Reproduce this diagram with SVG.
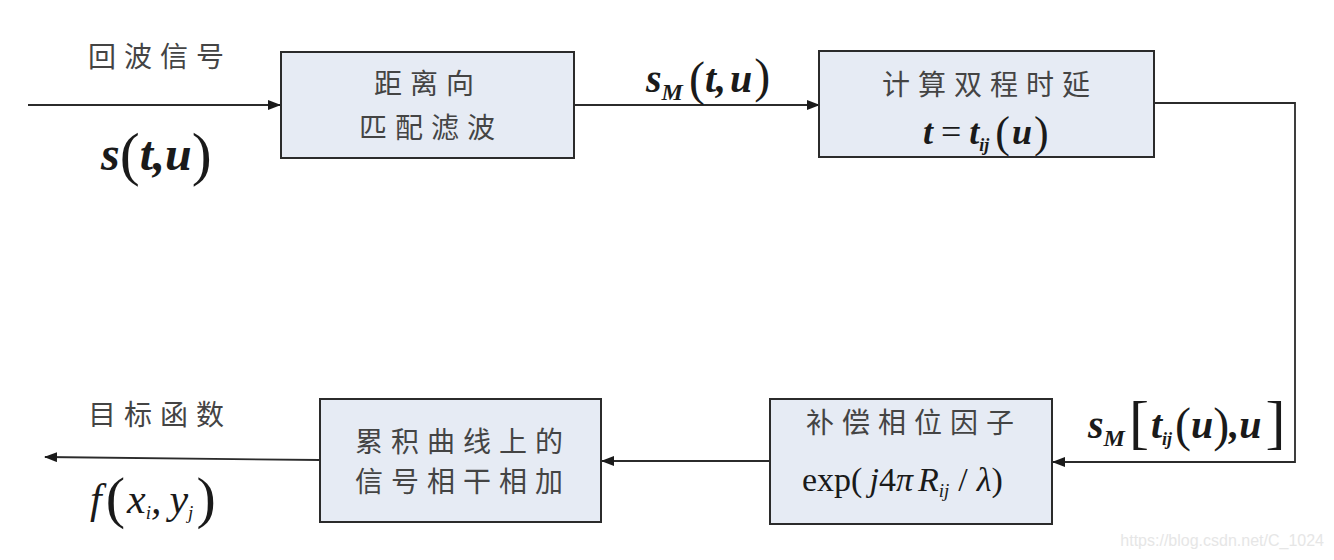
<svg xmlns="http://www.w3.org/2000/svg" width="1334" height="560" viewBox="0 0 1334 560">
<style>
.box{fill:#e6ebf4;stroke:#2b2b2b;stroke-width:2}
.cn{font-family:"Noto Sans CJK SC","Noto Sans",sans-serif;font-size:28px;fill:#444444;letter-spacing:8px}
.m{font-family:"Liberation Serif",serif;font-weight:bold;font-style:italic;fill:#1a1a1a}
.p{font-style:normal;font-weight:normal}
.ln{fill:none;stroke:#2b2b2b;stroke-width:1.8}
</style>
<defs>
<marker id="ah" markerWidth="13" markerHeight="10" refX="12" refY="5" orient="auto" markerUnits="userSpaceOnUse">
<path d="M0,0 L13,5 L0,10 Z" fill="#1a1a1a"/>
</marker>
</defs>
<rect width="1334" height="560" fill="#ffffff"/>
<g id="connectors">
<line class="ln" x1="28" y1="105" x2="280" y2="105" marker-end="url(#ah)"/>
<line class="ln" x1="574" y1="105" x2="819" y2="105" marker-end="url(#ah)"/>
<polyline class="ln" points="1154,103 1295,103 1295,462 1053,462" marker-end="url(#ah)"/>
<line class="ln" x1="770" y1="461" x2="602" y2="461" marker-end="url(#ah)"/>
<line class="ln" x1="320" y1="460" x2="45" y2="457" marker-end="url(#ah)"/>
</g>
<g id="input-label">
<text class="cn" x="88" y="67">回波信号</text>
<text class="m" x="101" y="170" font-size="48">s<tspan class="p" font-size="60" dy="4">(</tspan><tspan dy="-4">t,u</tspan><tspan class="p" font-size="60" dy="4">)</tspan></text>
</g>
<g id="node-matched-filter">
<rect class="box" x="281" y="52" width="293" height="106"/>
<text class="cn" x="374" y="94">距离向</text>
<text class="cn" x="359" y="138">匹配滤波</text>
</g>
<g id="label-sM">
<text class="m" x="646" y="92" font-size="40">s<tspan font-size="24" dy="8">M</tspan><tspan class="p" font-size="48" dy="-5" dx="6">(</tspan><tspan dy="-3">t,</tspan><tspan dx="4">u</tspan><tspan class="p" font-size="48" dx="2">)</tspan></text>
</g>
<g id="node-delay">
<rect class="box" x="819" y="51" width="335" height="106"/>
<text class="cn" x="882" y="95">计算双程时延</text>
<text class="m" x="923" y="144" font-size="36">t<tspan class="p" font-weight="bold" dx="8">=</tspan><tspan dx="8">t</tspan><tspan font-size="18" dy="7">ij</tspan><tspan class="p" font-size="44" dy="-4" dx="6">(</tspan><tspan dy="-3" dx="2">u</tspan><tspan class="p" font-size="44" dy="3" dx="2">)</tspan></text>
</g>
<g id="label-sM-tij">
<text class="m" x="1088" y="438" font-size="40">s<tspan font-size="24" dy="8">M</tspan><tspan class="p" font-size="60" dy="-4" dx="4">[</tspan><tspan dy="-4" dx="2">t</tspan><tspan font-size="18" dy="7">ij</tspan><tspan class="p" font-size="48" dy="-4" dx="3">(</tspan><tspan dy="-3">u</tspan><tspan class="p" font-size="48" dy="3">)</tspan><tspan dy="-3">,u</tspan><tspan class="p" font-size="60" dy="4" dx="4">]</tspan></text>
</g>
<g id="node-phase">
<rect class="box" x="770" y="399" width="282" height="125"/>
<text class="cn" x="806" y="433">补偿相位因子</text>
<text x="802" y="491" font-family="Liberation Serif,serif" font-size="34" fill="#1a1a1a">exp(<tspan font-style="italic" dx="7">j</tspan>4<tspan font-style="italic">π</tspan><tspan font-style="italic" dx="5">R</tspan><tspan font-style="italic" font-size="19" dy="6">ij</tspan><tspan dy="-6" dx="9">/</tspan><tspan font-style="italic" dx="9">λ</tspan>)</text>
</g>
<g id="node-sum">
<rect class="box" x="320" y="399" width="281" height="123"/>
<text class="cn" x="355" y="452">累积曲线上的</text>
<text class="cn" x="355" y="492">信号相干相加</text>
</g>
<g id="output-label">
<text class="cn" x="88" y="425">目标函数</text>
<text x="90" y="513" font-family="Liberation Serif,serif" font-size="42" font-style="italic" fill="#1a1a1a">f<tspan font-style="normal" font-size="58" dy="4" dx="4">(</tspan><tspan dy="-4" dx="2">x</tspan><tspan font-size="19" dy="6">i</tspan><tspan dy="-6">,</tspan><tspan dx="8">y</tspan><tspan font-size="19" dy="6">j</tspan><tspan font-style="normal" font-size="58" dy="-2" dx="3">)</tspan></text>
</g>
<text x="1324" y="546" font-family="Liberation Sans,sans-serif" font-size="16" fill="#e6e6e6" text-anchor="end">https://blog.csdn.net/C_1024</text>
</svg>
